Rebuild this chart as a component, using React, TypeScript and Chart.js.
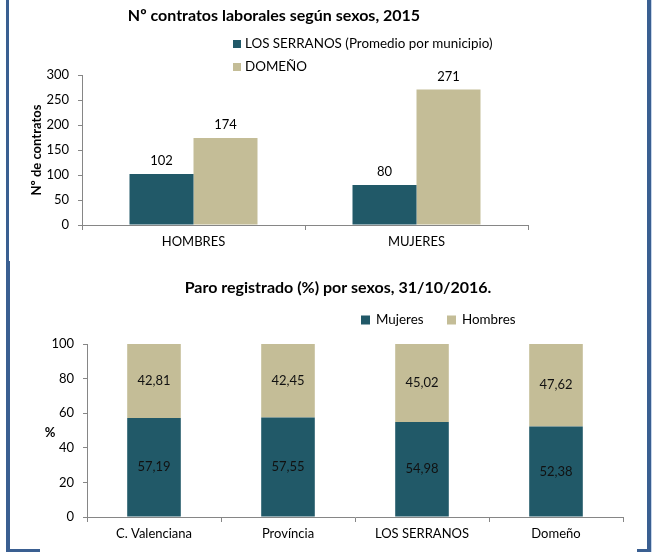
import React, { useEffect, useRef } from "react";
import { Chart, registerables } from "chart.js";
Chart.register(...registerables);

// ---- Data: chart 1 ----
const contractTitle = "Nº contratos laborales según sexos, 2015";
const contractCategories = ["HOMBRES", "MUJERES"];
const serranosLabel = "LOS SERRANOS (Promedio por municipio)";
const serranosContracts = [102, 80];
const domenoLabel = "DOMEÑO";
const domenoContracts = [174, 271];
const contractAxisTitle = "Nº de contratos";

// ---- Data: chart 2 ----
const paroTitle = "Paro registrado (%) por sexos, 31/10/2016.";
const paroCategories = ["C. Valenciana", "Província", "LOS SERRANOS", "Domeño"];
const paroMujeres = [57.19, 57.55, 54.98, 52.38];
const paroHombres = [42.81, 42.45, 45.02, 47.62];
const paroAxisTitle = "%";

const DARK = "#215968";
const LIGHT = "#c4bd97";
const AXIS = "#868686";
const FONT = "Lato";
const BLUE = "#3a5f91";

const topPlugin = {
  id: "topDeco",
  afterDatasetsDraw(chart: any) {
    const ctx = chart.ctx;
    ctx.save();
    ctx.textAlign = "center";
    ctx.textBaseline = "middle";
    ctx.font = `13px ${FONT}`;
    ctx.fillStyle = "#000";
    chart.data.datasets.forEach((ds: any, di: number) => {
      const meta = chart.getDatasetMeta(di);
      meta.data.forEach((el: any, i: number) => {
        ctx.fillText(String(ds.data[i]), el.x, el.y - 13);
      });
    });
    ctx.font = `bold 16px ${FONT}`;
    ctx.fillText(contractTitle, 274, 16);
    chart.data.datasets.forEach((ds: any, di: number) => {
      const y = 44 + di * 23;
      ctx.fillStyle = ds.backgroundColor;
      ctx.fillRect(233, y - 4, 8, 8);
      ctx.fillStyle = "#000";
      ctx.textAlign = "left";
      ctx.font = `13.4px ${FONT}`;
      ctx.fillText(ds.label, 245, y);
    });
    ctx.restore();
  },
};

const bottomPlugin = {
  id: "bottomDeco",
  afterDatasetsDraw(chart: any) {
    const ctx = chart.ctx;
    ctx.save();
    ctx.textAlign = "center";
    ctx.textBaseline = "middle";
    ctx.font = `13px ${FONT}`;
    ctx.fillStyle = "#111";
    chart.data.datasets.forEach((ds: any, di: number) => {
      const meta = chart.getDatasetMeta(di);
      meta.data.forEach((el: any, i: number) => {
        const v = ds.data[i] as number;
        ctx.fillText(v.toFixed(2).replace(".", ","), el.x, (el.y + el.base) / 2);
      });
    });
    ctx.fillStyle = "#000";
    ctx.font = `bold 16px ${FONT}`;
    ctx.fillText(paroTitle, 338, 28);
    ctx.font = `bold 13px ${FONT}`;
    const ca = chart.chartArea;
    ctx.fillText(paroAxisTitle, 50, (ca.top + ca.bottom) / 2 + 2);
    const xs = [361, 447];
    chart.data.datasets.forEach((ds: any, di: number) => {
      const y = 60;
      ctx.fillStyle = ds.backgroundColor;
      ctx.fillRect(xs[di], y - 4.5, 9, 9);
      ctx.fillStyle = "#000";
      ctx.textAlign = "left";
      ctx.font = `13.4px ${FONT}`;
      ctx.fillText(ds.label, xs[di] + 15, y);
    });
    ctx.restore();
  },
};

const tickFont = { family: FONT, size: 13 };

export default function App() {
  const topRef = useRef<HTMLCanvasElement>(null);
  const botRef = useRef<HTMLCanvasElement>(null);

  useEffect(() => {
    const top = new Chart(topRef.current!, {
      type: "bar",
      data: {
        labels: contractCategories,
        datasets: [
          { label: serranosLabel, data: serranosContracts, backgroundColor: DARK, categoryPercentage: 0.574, barPercentage: 1 },
          { label: domenoLabel, data: domenoContracts, backgroundColor: LIGHT, categoryPercentage: 0.574, barPercentage: 1 },
        ],
      },
      options: {
        animation: false,
        responsive: false,
        maintainAspectRatio: false,
        layout: { padding: { top: 75, right: 132, bottom: 0, left: 0 } },
        plugins: { legend: { display: false }, title: { display: false }, tooltip: { enabled: false } },
        scales: {
          x: {
            grid: { display: true, drawOnChartArea: false, tickLength: 5, color: AXIS, offset: true },
            border: { color: AXIS },
            ticks: { font: tickFont, color: "#000", padding: 4 },
            afterFit: (s: any) => { s.height = 33; },
          },
          y: {
            min: 0,
            max: 300,
            ticks: { stepSize: 50, font: tickFont, color: "#000", padding: 9 },
            grid: { drawOnChartArea: false, tickLength: 4, color: AXIS },
            border: { color: AXIS },
            title: {
              display: true,
              text: contractAxisTitle,
              font: { family: FONT, size: 13, weight: "bold" },
              color: "#000",
              padding: { top: 29, bottom: 0 },
            },
            afterFit: (s: any) => { s.width = 82; },
          },
        },
      } as any,
      plugins: [topPlugin],
    });

    const bot = new Chart(botRef.current!, {
      type: "bar",
      data: {
        labels: paroCategories,
        datasets: [
          { label: "Mujeres", data: paroMujeres, backgroundColor: DARK, categoryPercentage: 0.4, barPercentage: 1 },
          { label: "Hombres", data: paroHombres, backgroundColor: LIGHT, categoryPercentage: 0.4, barPercentage: 1 },
        ],
      },
      options: {
        animation: false,
        responsive: false,
        maintainAspectRatio: false,
        layout: { padding: { top: 84, right: 37, bottom: 0, left: 0 } },
        plugins: { legend: { display: false }, title: { display: false }, tooltip: { enabled: false } },
        scales: {
          x: {
            stacked: true,
            grid: { display: true, drawOnChartArea: false, tickLength: 5, color: AXIS, offset: true },
            border: { color: AXIS },
            ticks: { font: tickFont, color: "#000", padding: 4 },
            afterFit: (s: any) => { s.height = 35; },
          },
          y: {
            stacked: true,
            min: 0,
            max: 100,
            ticks: { stepSize: 20, font: tickFont, color: "#000", padding: 9 },
            grid: { drawOnChartArea: false, tickLength: 4, color: AXIS },
            border: { color: AXIS },
            afterFit: (s: any) => { s.width = 87; },
          },
        },
      } as any,
      plugins: [bottomPlugin],
    });

    return () => {
      top.destroy();
      bot.destroy();
    };
  }, []);

  const bar = (left: number, top: number, width: number, height: number, color = BLUE) => (
    <div style={{ position: "absolute", left, top, width, height, background: color }} />
  );

  return (
    <div style={{ position: "fixed", left: 0, top: 0, width: 660, height: 552, background: "#fff", overflow: "hidden" }}>
      <canvas ref={topRef} width={660} height={258} style={{ position: "absolute", left: 0, top: 0 }} />
      <canvas ref={botRef} width={660} height={292} style={{ position: "absolute", left: 0, top: 260 }} />
      {bar(6, 0, 3, 261)}
      {bar(6, 261, 4, 291)}
      {bar(6, 549, 34, 3)}
      {bar(647, 0, 4, 552)}
      {bar(651, 0, 1, 552, "#c5d5ea")}
      {bar(637, 549, 14, 3)}
    </div>
  );
}
